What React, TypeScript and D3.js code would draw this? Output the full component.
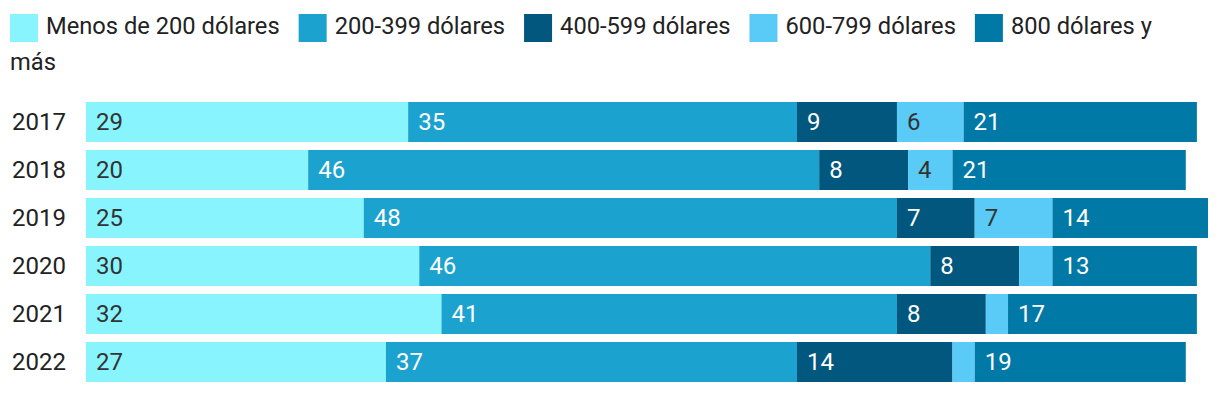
import { useEffect, useRef } from "react";
import * as d3 from "d3";

const years = ["2017", "2018", "2019", "2020", "2021", "2022"];
const seriesNames = [
  "Menos de 200 dólares",
  "200-399 dólares",
  "400-599 dólares",
  "600-799 dólares",
  "800 dólares y más",
];
const under200 = [29, 20, 25, 30, 32, 27];
const d200to399 = [35, 46, 48, 46, 41, 37];
const d400to599 = [9, 8, 7, 8, 8, 14];
const d600to799 = [6, 4, 7, 3, 2, 2];
const d800plus = [21, 21, 14, 13, 17, 19];

const colors = ["#88f4fd", "#1ba2cf", "#01577d", "#5acbf7", "#0179a7"];
const labelColors = ["#333333", "#ffffff", "#ffffff", "#333333", "#ffffff"];

const W = 1220;
const H = 394;

export default function App() {
  const svgRef = useRef<SVGSVGElement>(null);

  useEffect(() => {
    if (!svgRef.current) return;
    const svg = d3.select(svgRef.current);
    svg.selectAll("*").remove();

    const font = "Roboto, sans-serif";
    const fs = 24;
    const margin = { top: 102, left: 86, right: 12, bottom: 4 };

    const rows = years.map((y, i) => ({
      year: y,
      values: [under200[i], d200to399[i], d400to599[i], d600to799[i], d800plus[i]],
    }));
    const maxTotal = d3.max(rows, (r) => d3.sum(r.values)) || 100;

    const x = d3.scaleLinear().domain([0, maxTotal]).range([margin.left, W - margin.right]);
    const y = d3
      .scaleBand()
      .domain(years)
      .range([margin.top - 4, margin.top - 4 + 48 * years.length])
      .paddingInner(8 / 48)
      .paddingOuter(4 / 48);

    // Legend (flow layout with wrapping)
    const legend = svg.append("g");
    let lx = 10;
    let ly = 0;
    const lineH = 36;
    const maxRight = 1190;
    seriesNames.forEach((name, i) => {
      const g = legend.append("g");
      g.append("rect")
        .attr("x", lx)
        .attr("y", ly + 14)
        .attr("width", 28)
        .attr("height", 28)
        .attr("fill", colors[i]);
      let tx = lx + 36;
      const words = name.split(" ");
      const text = g
        .append("text")
        .attr("font-family", font)
        .attr("font-size", 23.7)
        .attr("fill", "#222");
      let line: string[] = [];
      let tspan = text.append("tspan").attr("x", tx).attr("y", ly + 34);
      for (const w of words) {
        line.push(w);
        tspan.text(line.join(" "));
        const len = (tspan.node() as SVGTSpanElement).getComputedTextLength();
        if (tx + len > maxRight && line.length > 1) {
          line.pop();
          tspan.text(line.join(" "));
          line = [w];
          ly += lineH;
          tx = 10;
          tspan = text.append("tspan").attr("x", tx).attr("y", ly + 34).text(w);
        }
      }
      const lastLen = (tspan.node() as SVGTSpanElement).getComputedTextLength();
      lx = tx + lastLen + 19;
    });

    // Bars
    const rowG = svg
      .selectAll("g.row")
      .data(rows)
      .join("g")
      .attr("class", "row")
      .attr("transform", (d) => `translate(0,${y(d.year)})`);

    rowG
      .append("text")
      .attr("x", 12)
      .attr("y", y.bandwidth() / 2)
      .attr("dy", "0.35em")
      .attr("font-family", font)
      .attr("font-size", fs)
      .attr("fill", "#222")
      .text((d) => d.year);

    rowG.each(function (d) {
      const g = d3.select(this);
      let acc = 0;
      d.values.forEach((v, i) => {
        const x0 = x(acc);
        const x1 = x(acc + v);
        acc += v;
        g.append("rect")
          .attr("x", x0)
          .attr("y", 0)
          .attr("width", x1 - x0)
          .attr("height", y.bandwidth())
          .attr("fill", colors[i]);
        if (x1 - x0 >= 40) {
          g.append("text")
            .attr("x", x0 + 10)
            .attr("y", y.bandwidth() / 2)
            .attr("dy", "0.35em")
            .attr("font-family", font)
            .attr("font-size", fs)
            .attr("fill", labelColors[i])
            .text(v);
        }
      });
    });
  }, []);

  return (
    <svg
      ref={svgRef}
      width={W}
      height={H}
      style={{ position: "absolute", left: 0, top: 0, display: "block" }}
    />
  );
}
